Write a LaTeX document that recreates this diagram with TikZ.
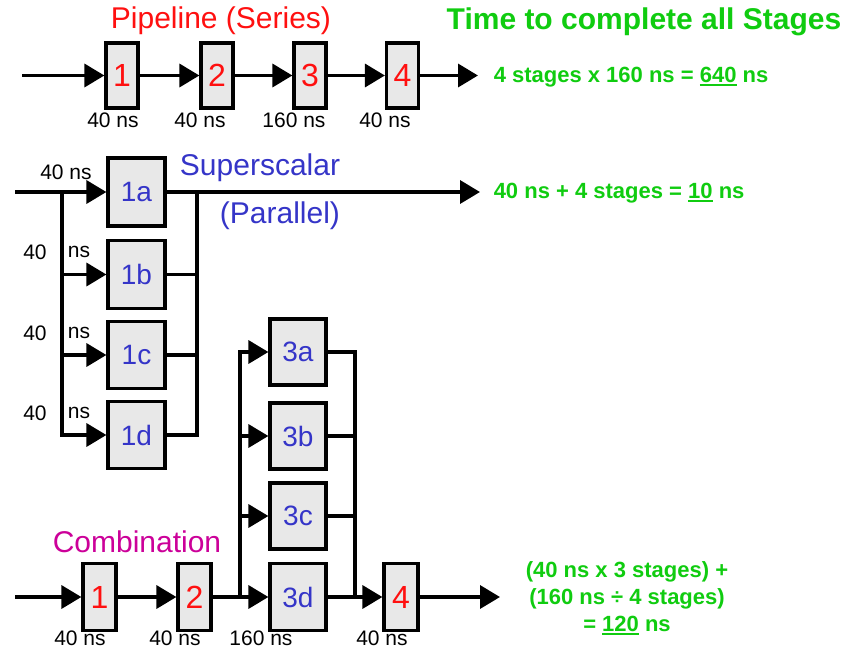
\documentclass[tikz,border=0pt]{standalone}
\usepackage{fontspec}
\setmainfont{Liberation Sans}
\usetikzlibrary{arrows.meta}
\definecolor{boxgray}{HTML}{E8E8E8}
\definecolor{myred}{HTML}{FF1010}
\definecolor{myblue}{HTML}{3535C8}
\definecolor{mygreen}{HTML}{10CC10}
\definecolor{mymag}{HTML}{CC0099}
\newcommand\myul[1]{\setbox0\hbox{#1}\rlap{\rule[-3.5pt]{\wd0}{2.2pt}}\box0\relax}
\begin{document}
\begin{tikzpicture}[x=1pt,y=-1pt,
  line width=3.5pt, line join=miter,
  arr/.style={-{Triangle[length=20pt,width=23pt]}},
  smallbox/.style={draw, fill=boxgray, line width=3.2pt, minimum width=32pt, minimum height=65pt, inner sep=0pt, text=myred, font=\fontsize{32}{36}\selectfont},
  bigbox/.style={draw, fill=boxgray, line width=3.2pt, minimum width=56pt, minimum height=66pt, inner sep=0pt, text=myblue, font=\fontsize{28}{32}\selectfont},
  lbl/.style={inner sep=0pt, font=\fontsize{21}{25}\selectfont},
  res/.style={inner sep=0pt, text=mygreen, font=\bfseries\fontsize{22}{27}\selectfont},
  ttl/.style={inner sep=0pt, font=\fontsize{30}{34}\selectfont}]
\path[use as bounding box, fill=white] (0,0) rectangle (863,649);

% ---------- Pipeline ----------
\node[ttl, text=myred] (tpipe) at (221,21) {Pipeline (Series)};
\node[ttl, text=mygreen, font=\bfseries\fontsize{30}{34}\selectfont] (ttime) at (644,22) {Time to complete all Stages};
\node[smallbox] (p1) at (122,75.5) {1};
\node[smallbox] (p2) at (217,75.5) {2};
\node[smallbox] (p3) at (310,75.5) {3};
\node[smallbox] (p4) at (402.5,75.5) {4};
\coordinate (pin) at (22,75.5);
\coordinate (pout) at (478,75.5);
\draw[arr] (pin) -- (p1.west);
\draw[arr] (p1.east) -- (p2.west);
\draw[arr] (p2.east) -- (p3.west);
\draw[arr] (p3.east) -- (p4.west);
\draw[arr] (p4.east) -- (pout);
\node[lbl] (lp1) at (113,120) {40 ns};
\node[lbl] (lp2) at (200,120) {40 ns};
\node[lbl] (lp3) at (294,120) {160 ns};
\node[lbl] (lp4) at (385,120) {40 ns};
\node[res, anchor=west] (rpipe) at (492,77) {4 stages x 160 ns = \myul{640} ns};

% ---------- Superscalar ----------
\node[bigbox, minimum width=57pt, minimum height=68pt] (s1a) at (136.5,192) {1a};
\node[bigbox, minimum width=57pt, minimum height=68pt] (s1b) at (136.5,274.5) {1b};
\node[bigbox, minimum width=57pt, minimum height=67pt] (s1c) at (136.5,355) {1c};
\node[bigbox, minimum width=57pt, minimum height=67pt] (s1d) at (136.5,435) {1d};
\coordinate (sin) at (15,192);
\coordinate (sb) at (62,192);
\coordinate (sc) at (197,192);
\coordinate (sout) at (480,192);
\draw[arr] (sin) -- (s1a.west);
\draw[arr] (sb) |- (s1b.west);
\draw[arr] (sb) |- (s1c.west);
\draw[arr] (sb) |- (s1d.west);
\draw (s1b.east) -| (sc);
\draw (s1c.east) -| (sc);
\draw (s1d.east) -| (sc);
\draw[arr] (s1a.east) -- (sout);
\node[lbl] (ls0) at (66,172) {40 ns};
\node[lbl] (ls1) at (35,252) {40};
\node[lbl] (ls1n) at (79,252) {ns};
\node[lbl] (ls2) at (35,333) {40};
\node[lbl] (ls2n) at (79,333) {ns};
\node[lbl] (ls3) at (35,413) {40};
\node[lbl] (ls3n) at (79,413) {ns};
\node[ttl, text=myblue] (tsup) at (260,168) {Superscalar};
\node[ttl, text=myblue] (tpar) at (280,216) {(Parallel)};
\node[res, anchor=west] (rsup) at (492,193) {40 ns + 4 stages = \myul{10} ns};

% ---------- Combination ----------
\node[ttl, text=mymag] (tcomb) at (137,542) {Combination};
\node[smallbox, minimum width=33pt, minimum height=67pt] (c1) at (99.5,597) {1};
\node[smallbox, minimum width=33pt, minimum height=67pt] (c2) at (194.5,597) {2};
\node[bigbox] (c3a) at (298,352) {3a};
\node[bigbox] (c3b) at (298,436) {3b};
\node[bigbox] (c3c) at (298,516) {3c};
\node[bigbox, minimum height=67pt] (c3d) at (298,597) {3d};
\node[smallbox, minimum width=34pt, minimum height=67pt] (c4) at (401,597) {4};
\coordinate (cin) at (15,597);
\coordinate (cb) at (240,597);
\coordinate (cc) at (355,597);
\coordinate (cout) at (500,597);
\draw[arr] (cin) -- (c1.west);
\draw[arr] (c1.east) -- (c2.west);
\draw (c2.east) -- (cb);
\draw[arr] (cb) -- (c3d.west);
\draw[arr] (cb) |- (c3a.west);
\draw[arr] (cb) |- (c3b.west);
\draw[arr] (cb) |- (c3c.west);
\draw (c3a.east) -| (cc);
\draw (c3b.east) -| (cc);
\draw (c3c.east) -| (cc);
\draw (c3d.east) -- (cc);
\draw[arr] (cc) -- (c4.west);
\draw[arr] (c4.east) -- (cout);
\node[lbl] (lc1) at (80,638) {40 ns};
\node[lbl] (lc2) at (175,638) {40 ns};
\node[lbl] (lc3) at (261,638) {160 ns};
\node[lbl] (lc4) at (382,638) {40 ns};
\node[res, align=center] (rcomb) at (627,598) {(40 ns x 3 stages) +\\(160 ns \char"00F7{} 4 stages)\\= \myul{120} ns};
\end{tikzpicture}
\end{document}
